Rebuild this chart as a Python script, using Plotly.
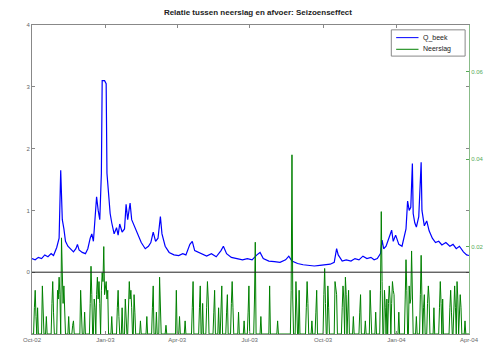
import pandas as pd
import plotly.graph_objects as go

# ---- Data -------------------------------------------------------------
q_dates = [
    "2002-10-01", "2002-10-05", "2002-10-09", "2002-10-13", "2002-10-17", "2002-10-21",
    "2002-10-25", "2002-10-28", "2002-11-01", "2002-11-04", "2002-11-06", "2002-11-07",
    "2002-11-08", "2002-11-10", "2002-11-12", "2002-11-15", "2002-11-19", "2002-11-22",
    "2002-11-25", "2002-11-27", "2002-11-29", "2002-12-03", "2002-12-07", "2002-12-10",
    "2002-12-13", "2002-12-15", "2002-12-17", "2002-12-19", "2002-12-21", "2002-12-23",
    "2002-12-25", "2002-12-27", "2002-12-28", "2002-12-31", "2003-01-02", "2003-01-03",
    "2003-01-05", "2003-01-07", "2003-01-09", "2003-01-12", "2003-01-15", "2003-01-17",
    "2003-01-19", "2003-01-22", "2003-01-25", "2003-01-27", "2003-01-29", "2003-02-01",
    "2003-02-03", "2003-02-07", "2003-02-11", "2003-02-15", "2003-02-20", "2003-02-24",
    "2003-02-27", "2003-03-02", "2003-03-05", "2003-03-08", "2003-03-11", "2003-03-13",
    "2003-03-17", "2003-03-22", "2003-03-28", "2003-04-03", "2003-04-08", "2003-04-12",
    "2003-04-17", "2003-04-20", "2003-04-23", "2003-04-28", "2003-05-03", "2003-05-08",
    "2003-05-14", "2003-05-20", "2003-05-26", "2003-05-29", "2003-06-02", "2003-06-08",
    "2003-06-15", "2003-06-22", "2003-06-28", "2003-07-04", "2003-07-10", "2003-07-14",
    "2003-07-18", "2003-07-25", "2003-08-01", "2003-08-08", "2003-08-15", "2003-08-19",
    "2003-08-23", "2003-08-30", "2003-09-06", "2003-09-13", "2003-09-20", "2003-09-27",
    "2003-10-04", "2003-10-10", "2003-10-15", "2003-10-18", "2003-10-20", "2003-10-25",
    "2003-10-30", "2003-11-05", "2003-11-10", "2003-11-15", "2003-11-20", "2003-11-25",
    "2003-11-30", "2003-12-04", "2003-12-08", "2003-12-12", "2003-12-14", "2003-12-16",
    "2003-12-19", "2003-12-23", "2003-12-26", "2003-12-28", "2003-12-31", "2004-01-04",
    "2004-01-08", "2004-01-13", "2004-01-15", "2004-01-17", "2004-01-19", "2004-01-21",
    "2004-01-22", "2004-01-24", "2004-01-26", "2004-01-29", "2004-02-01", "2004-02-02",
    "2004-02-05", "2004-02-08", "2004-02-11", "2004-02-15", "2004-02-19", "2004-02-23",
    "2004-02-27", "2004-03-03", "2004-03-08", "2004-03-12", "2004-03-16", "2004-03-20",
    "2004-03-25", "2004-03-29", "2004-04-01",
]
q_values = [
    0.22, 0.20, 0.24, 0.22, 0.28, 0.25,
    0.30, 0.27, 0.40, 0.55, 1.65, 1.30,
    0.85, 0.70, 0.50, 0.42, 0.36, 0.33,
    0.38, 0.45, 0.36, 0.32, 0.30, 0.38,
    0.55, 0.62, 0.50, 0.80, 1.22, 1.00,
    0.85, 1.60, 3.10, 3.10, 3.05, 1.60,
    1.20, 0.95, 0.80, 0.62, 0.72, 0.60,
    0.78, 0.65, 0.70, 1.10, 0.85, 1.12,
    0.85, 0.72, 0.60, 0.48, 0.38, 0.42,
    0.48, 0.65, 0.50, 0.55, 0.90, 0.62,
    0.42, 0.32, 0.28, 0.27, 0.30, 0.28,
    0.45, 0.50, 0.35, 0.32, 0.28, 0.26,
    0.30, 0.25, 0.35, 0.42, 0.30, 0.24,
    0.22, 0.20, 0.22, 0.20, 0.28, 0.32,
    0.22, 0.18, 0.17, 0.16, 0.20, 0.26,
    0.18, 0.14, 0.12, 0.11, 0.10, 0.11,
    0.12, 0.13, 0.16, 0.38, 0.28, 0.18,
    0.20, 0.18, 0.22, 0.20, 0.26, 0.22,
    0.24, 0.20, 0.22, 0.30, 0.52, 0.38,
    0.42, 0.55, 0.68, 0.50, 0.60, 0.45,
    0.42, 0.70, 1.15, 1.00, 1.05, 1.76,
    0.95, 0.80, 0.73, 0.90, 1.78, 1.00,
    0.75, 0.83, 0.67, 0.55, 0.48, 0.50,
    0.44, 0.48, 0.42, 0.45, 0.38, 0.42,
    0.33, 0.28, 0.27,
]

rain_dates = [
    "2002-10-04", "2002-10-05", "2002-10-06", "2002-10-08", "2002-10-14", "2002-10-15",
    "2002-10-19", "2002-10-26", "2002-10-27", "2002-10-28", "2002-11-02", "2002-11-03",
    "2002-11-04", "2002-11-05", "2002-11-07", "2002-11-08", "2002-11-09", "2002-11-10",
    "2002-11-11", "2002-11-16", "2002-11-21", "2002-11-22", "2002-12-01", "2002-12-02",
    "2002-12-06", "2002-12-13", "2002-12-14", "2002-12-15", "2002-12-18", "2002-12-19",
    "2002-12-21", "2002-12-22", "2002-12-23", "2002-12-24", "2002-12-25", "2002-12-27",
    "2002-12-28", "2002-12-29", "2002-12-30", "2002-12-31", "2003-01-01", "2003-01-02",
    "2003-01-03", "2003-01-04", "2003-01-09", "2003-01-16", "2003-01-17", "2003-01-18",
    "2003-01-22", "2003-01-26", "2003-01-27", "2003-01-30", "2003-01-31", "2003-02-01",
    "2003-02-02", "2003-02-03", "2003-02-06", "2003-02-07", "2003-02-14", "2003-02-22",
    "2003-03-01", "2003-03-02", "2003-03-06", "2003-03-10", "2003-03-11", "2003-03-18",
    "2003-03-31", "2003-04-04", "2003-04-11", "2003-04-20", "2003-04-21", "2003-04-29",
    "2003-04-30", "2003-05-03", "2003-05-08", "2003-05-09", "2003-05-10", "2003-05-17",
    "2003-05-18", "2003-05-23", "2003-05-26", "2003-05-27", "2003-06-02", "2003-06-03",
    "2003-06-08", "2003-06-09", "2003-06-10", "2003-06-17", "2003-06-24", "2003-06-29",
    "2003-06-30", "2003-07-07", "2003-07-08", "2003-07-15", "2003-07-26", "2003-08-05",
    "2003-08-22", "2003-08-23", "2003-08-24", "2003-08-28", "2003-08-29", "2003-09-01",
    "2003-09-10", "2003-09-11", "2003-09-12", "2003-09-17", "2003-09-22", "2003-09-23",
    "2003-10-02", "2003-10-03", "2003-10-04", "2003-10-07", "2003-10-08", "2003-10-16",
    "2003-10-17", "2003-10-18", "2003-10-25", "2003-10-26", "2003-10-27", "2003-10-29",
    "2003-10-30", "2003-11-01", "2003-11-02", "2003-11-08", "2003-11-16", "2003-11-17",
    "2003-11-23", "2003-11-29", "2003-11-30", "2003-12-06", "2003-12-12", "2003-12-13",
    "2003-12-14", "2003-12-17", "2003-12-18", "2003-12-20", "2003-12-22", "2003-12-23",
    "2003-12-24", "2003-12-26", "2003-12-27", "2003-12-28", "2003-12-29", "2004-01-04",
    "2004-01-12", "2004-01-13", "2004-01-14", "2004-01-17", "2004-01-18", "2004-01-19",
    "2004-01-20", "2004-01-21", "2004-01-26", "2004-01-31", "2004-02-01", "2004-02-02",
    "2004-02-04", "2004-02-05", "2004-02-09", "2004-02-10", "2004-02-11", "2004-02-17",
    "2004-02-24", "2004-02-25", "2004-02-26", "2004-02-28", "2004-03-08", "2004-03-09",
    "2004-03-10", "2004-03-13", "2004-03-14", "2004-03-15", "2004-03-17", "2004-03-18",
    "2004-03-20", "2004-03-21", "2004-03-22", "2004-03-27",
]
rain_values = [
    0.006, 0.010, 0.004, 0.006, 0.011, 0.005,
    0.004, 0.007, 0.012, 0.005, 0.010, 0.008,
    0.013, 0.009, 0.022, 0.014, 0.007, 0.011,
    0.005, 0.004, 0.002, 0.003, 0.010, 0.006,
    0.005, 0.007, 0.0155, 0.009, 0.008, 0.006,
    0.009, 0.013, 0.008, 0.012, 0.007, 0.010,
    0.014, 0.012, 0.020, 0.009, 0.011, 0.012,
    0.008, 0.010, 0.004, 0.006, 0.010, 0.004,
    0.006, 0.008, 0.005, 0.007, 0.012, 0.008,
    0.010, 0.006, 0.009, 0.005, 0.003, 0.004,
    0.006, 0.011, 0.005, 0.013, 0.008, 0.002,
    0.010, 0.004, 0.003, 0.006, 0.012, 0.006,
    0.011, 0.007, 0.006, 0.012, 0.008, 0.005,
    0.010, 0.006, 0.007, 0.011, 0.005, 0.009,
    0.007, 0.012, 0.006, 0.005, 0.003, 0.005,
    0.011, 0.008, 0.021, 0.004, 0.011, 0.003,
    0.010, 0.041, 0.008, 0.012, 0.007, 0.010,
    0.006, 0.012, 0.007, 0.003, 0.005, 0.010,
    0.009, 0.015, 0.007, 0.011, 0.006, 0.012,
    0.010, 0.009, 0.006, 0.011, 0.008, 0.013,
    0.009, 0.006, 0.010, 0.004, 0.005, 0.009,
    0.003, 0.010, 0.006, 0.005, 0.010, 0.028,
    0.012, 0.010, 0.006, 0.008, 0.007, 0.011,
    0.008, 0.007, 0.012, 0.010, 0.009, 0.005,
    0.008, 0.017, 0.010, 0.011, 0.007, 0.008,
    0.019, 0.010, 0.004, 0.009, 0.018, 0.008,
    0.006, 0.009, 0.007, 0.011, 0.008, 0.006,
    0.006, 0.012, 0.007, 0.008, 0.006, 0.010,
    0.005, 0.007, 0.011, 0.006, 0.012, 0.008,
    0.005, 0.009, 0.006, 0.003,
]

x_ticks = ["2002-10-01", "2003-01-01", "2003-04-01", "2003-07-01",
           "2003-10-01", "2004-01-01", "2004-04-01"]
x_ticklabels = ["Oct-02", "Jan-03", "Apr-03", "Jul-03", "Oct-03", "Jan-04", "Apr-04"]
q_ticks = [0, 1, 2, 3, 4]
p_ticks = [0.02, 0.04, 0.06]
series_names = ["Q_beek", "Neerslag"]
series_colors = ["#0000ff", "#008000"]

# daily precipitation series (days without listed rain are dry)
days = pd.date_range("2002-10-01", "2004-04-01", freq="D")
rain = pd.Series(0.0, index=days)
rain.loc[pd.to_datetime(rain_dates)] = rain_values

# ---- Figure -----------------------------------------------------------
fig = go.Figure()
fig.add_trace(go.Scatter(x=pd.to_datetime(q_dates), y=q_values, mode="lines",
                         name=series_names[0], showlegend=False,
                         line=dict(color=series_colors[0], width=1.2)))
fig.add_trace(go.Scatter(x=rain.index, y=rain.values, mode="lines",
                         name=series_names[1], showlegend=False,
                         line=dict(color=series_colors[1], width=1), yaxis="y2"))

fig.add_shape(type="line", xref="paper", x0=0, x1=1, yref="y", y0=0, y1=0,
              line=dict(color="#222222", width=1))

# legend box drawn in paper coordinates (plot area: x 32..482, y 25..343 px)
def px_x(p):
    return (p - 32) / 450.0

def px_y(p):
    return (343 - p) / 318.0

fig.add_shape(type="rect", xref="paper", yref="paper",
              x0=px_x(402), x1=px_x(478), y0=px_y(57), y1=px_y(30),
              line=dict(color="#888888", width=1), fillcolor="white", layer="above")
for i, (nm, col) in enumerate(zip(series_names, series_colors)):
    yy = px_y(38 + 12 * i)
    fig.add_shape(type="line", xref="paper", yref="paper",
                  x0=px_x(407), x1=px_x(430), y0=yy, y1=yy,
                  line=dict(color=col, width=1), layer="above")
    fig.add_annotation(xref="paper", yref="paper", x=px_x(433), y=yy, text=nm,
                       showarrow=False, xanchor="left", yanchor="middle",
                       font=dict(size=7, color="#222222",
                                 family="Liberation Sans, Arial, sans-serif"))

font = "Liberation Sans, Arial, sans-serif"
fig.update_layout(
    width=496, height=355,
    margin=dict(l=32, r=14, t=25, b=12),
    paper_bgcolor="white", plot_bgcolor="white",
    font=dict(family=font, size=6, color="#555555"),
    title=dict(text="<b>Relatie tussen neerslag en afvoer: Seizoenseffect</b>",
               x=0.52, xanchor="center", y=0.966, yanchor="middle",
               font=dict(size=8, color="#222222", family=font)),
    showlegend=False,
    xaxis=dict(range=["2002-10-01", "2004-04-01"], tickvals=pd.to_datetime(x_ticks),
               ticktext=x_ticklabels, ticks="inside", ticklen=3, showgrid=False,
               zeroline=False, showline=True, linecolor="#888888", mirror="ticks",
               tickcolor="#888888", tickfont=dict(size=6, color="#666666")),
    yaxis=dict(range=[-1, 4], tickvals=q_ticks, ticks="inside", ticklen=3,
               showgrid=False, zeroline=False, showline=True, linecolor="#888888",
               mirror="ticks", tickcolor="#888888",
               tickfont=dict(size=6, color="#666666")),
    yaxis2=dict(range=[0, 0.0707], tickvals=p_ticks, tickformat=".2f", overlaying="y",
                side="right", ticks="inside", ticklen=3, showgrid=False,
                zeroline=False, showline=True, linecolor="#88bb88",
                tickcolor="#55aa55", tickfont=dict(size=6, color="#55aa55")),
)

fig.write_html("out.html")
